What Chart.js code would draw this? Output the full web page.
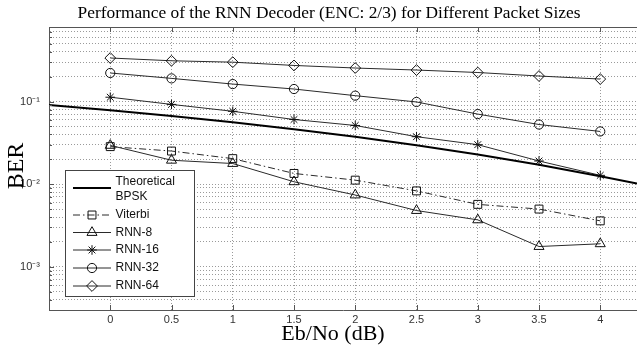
<!DOCTYPE html>
<html>
<head>
<meta charset="utf-8">
<title>RNN Decoder BER</title>
<script src="https://cdn.jsdelivr.net/npm/chart.js@4.4.0/dist/chart.umd.min.js"></script>
<style>
  html, body { margin: 0; padding: 0; background: #fff; }
  #wrap { width: 637px; height: 351px; }
</style>
</head>
<body>
<div id="wrap"><canvas id="berChart" width="637" height="351"></canvas></div>
<script>
/************************************************************
 *                        CHART DATA
 ************************************************************/
const ebNo = [0, 0.5, 1, 1.5, 2, 2.5, 3, 3.5, 4];
const bpskEbNo = [-0.5, 0, 0.5, 1, 1.5, 2, 2.5, 3, 3.5, 4, 4.3];
const bpskBer = [0.0909, 0.0786, 0.0671, 0.0563, 0.0464, 0.0375, 0.0296, 0.0229, 0.0172, 0.0125, 0.0102];
const viterbiBer = [0.0285, 0.0252, 0.0204, 0.0135, 0.0112, 0.0083, 0.0057, 0.0050, 0.0036];
const rnn8Ber = [0.0295, 0.0195, 0.0178, 0.0107, 0.0074, 0.0048, 0.0037, 0.00176, 0.0019];
const rnn16Ber = [0.113, 0.0925, 0.0763, 0.0607, 0.0514, 0.0376, 0.0301, 0.0191, 0.0128];
const rnn32Ber = [0.222, 0.191, 0.163, 0.142, 0.118, 0.099, 0.0706, 0.0528, 0.0435];
const rnn64Ber = [0.337, 0.312, 0.300, 0.274, 0.255, 0.241, 0.225, 0.204, 0.1875];

const xTicks = [0, 0.5, 1, 1.5, 2, 2.5, 3, 3.5, 4];
const xMin = -0.5;
const xMax = 4.3;
const yMin = 3.16e-4;
const yMax = 0.8;

const chartTitle = "Performance of the RNN Decoder (ENC: 2/3) for Different Packet Sizes";
const xAxisTitle = "Eb/No (dB)";
const yAxisTitle = "BER";

/************************************************************
 *                        HELPERS
 ************************************************************/
const supDigits = { "-": "\u207B", "0": "\u2070", "1": "\u00B9", "2": "\u00B2", "3": "\u00B3", "4": "\u2074" };

function decadeLabel(exp) {
  return "10" + String(exp).split("").map((c) => supDigits[c] || c).join("");
}

function toPoints(xs, ys) {
  return xs.map((x, i) => ({ x: x, y: ys[i] }));
}

function lineSeries(label, xs, ys, marker, radius, dash) {
  return {
    label: label,
    data: toPoints(xs, ys),
    borderColor: "#2a2a2a",
    borderWidth: 1,
    borderDash: dash || [],
    pointStyle: marker,
    pointRadius: radius,
    pointBorderColor: "#111",
    pointBorderWidth: 1,
    pointBackgroundColor: "rgba(0,0,0,0)",
    tension: 0,
    fill: false,
  };
}

/************************************************************
 *                        PLUGINS
 ************************************************************/
const frameAndTextPlugin = {
  id: "frameAndText",
  afterDraw(chart) {
    const ctx = chart.ctx;
    const area = chart.chartArea;
    const xs = chart.scales.x;
    const ys = chart.scales.y;
    ctx.save();

    // top border
    ctx.strokeStyle = "#555";
    ctx.lineWidth = 1;
    ctx.beginPath();
    ctx.moveTo(area.left, Math.round(area.top) + 0.5);
    ctx.lineTo(area.right, Math.round(area.top) + 0.5);
    ctx.stroke();

    // inward tick marks
    ctx.beginPath();
    xs.ticks.forEach((t) => {
      const px = Math.round(xs.getPixelForValue(t.value)) + 0.5;
      ctx.moveTo(px, area.bottom);
      ctx.lineTo(px, area.bottom - 5);
      ctx.moveTo(px, area.top);
      ctx.lineTo(px, area.top + 5);
    });
    ys.ticks.forEach((t) => {
      const py = Math.round(ys.getPixelForValue(t.value)) + 0.5;
      const e = Math.log10(t.value);
      const len = Math.abs(e - Math.round(e)) < 1e-9 ? 5 : 3;
      ctx.moveTo(area.left, py);
      ctx.lineTo(area.left + len, py);
    });
    ctx.stroke();

    // legend
    const box = { left: 65.5, top: 170.5, width: 129, height: 126 };
    ctx.fillStyle = "#fff";
    ctx.fillRect(box.left, box.top, box.width, box.height);
    ctx.strokeStyle = "#444";
    ctx.strokeRect(box.left, box.top, box.width, box.height);

    const rowY = [188, 215, 232.5, 250, 268, 286];
    ctx.font = '12px "Liberation Sans", Arial, sans-serif';
    ctx.textBaseline = "middle";
    ctx.textAlign = "left";
    chart.data.datasets.forEach((ds, i) => {
      const y = rowY[i];
      ctx.save();
      ctx.strokeStyle = ds.borderColor;
      ctx.lineWidth = ds.borderWidth;
      ctx.setLineDash(ds.borderDash || []);
      ctx.beginPath();
      ctx.moveTo(73, y);
      ctx.lineTo(111, y);
      ctx.stroke();
      ctx.restore();
      if (ds.pointRadius > 0) {
        ctx.save();
        ctx.strokeStyle = ds.pointBorderColor;
        ctx.fillStyle = "rgba(0,0,0,0)";
        ctx.lineWidth = 1;
        Chart.helpers.drawPoint(ctx, { pointStyle: ds.pointStyle, radius: ds.pointRadius, rotation: 0, borderWidth: 1 }, 92, y);
        ctx.restore();
      }
      const lines = ds.label.split("\n");
      ctx.fillStyle = "#111";
      if (lines.length === 2) {
        ctx.fillText(lines[0], 115.5, 182);
        ctx.fillText(lines[1], 115.5, 196.5);
      } else {
        ctx.fillText(lines[0], 115.5, y);
      }
    });

    // titles
    ctx.fillStyle = "#000";
    ctx.textAlign = "center";
    ctx.textBaseline = "alphabetic";
    ctx.font = '15px "Liberation Serif", serif';
    const w15 = ctx.measureText(chartTitle).width;
    const titleSize = 15 * 503 / w15;
    ctx.font = titleSize.toFixed(2) + 'px "Liberation Serif", serif';
    ctx.fillText(chartTitle, 329, 18);

    ctx.font = '22px "Liberation Serif", serif';
    ctx.fillText(xAxisTitle, 333, 340);

    ctx.save();
    ctx.translate(23, 166);
    ctx.rotate(-Math.PI / 2);
    ctx.font = '24px "Liberation Serif", serif';
    ctx.fillText(yAxisTitle, 0, 0);
    ctx.restore();

    ctx.restore();
  },
};

/************************************************************
 *                        CHART CONFIG
 ************************************************************/
const datasets = [
  {
    label: "Theoretical\nBPSK",
    data: toPoints(bpskEbNo, bpskBer),
    borderColor: "#000",
    borderWidth: 2,
    pointRadius: 0,
    tension: 0,
    fill: false,
  },
  lineSeries("Viterbi", ebNo, viterbiBer, "rect", 5.6, [7, 3, 1.5, 3]),
  lineSeries("RNN-8", ebNo, rnn8Ber, "triangle", 5.8),
  lineSeries("RNN-16", ebNo, rnn16Ber, "star", 4.8),
  lineSeries("RNN-32", ebNo, rnn32Ber, "circle", 4.6),
  lineSeries("RNN-64", ebNo, rnn64Ber, "rectRot", 5.4),
];

const gridStyle = { color: "#9a9a9a", lineWidth: 1, drawTicks: false };
const borderStyle = { display: true, color: "#555", width: 1, dash: [1, 2] };
const tickFont = { family: '"Liberation Sans", Arial, sans-serif', size: 11 };

const config = {
  type: "line",
  data: { datasets: datasets },
  options: {
    responsive: false,
    animation: false,
    layout: { autoPadding: false, padding: { top: 27, right: 0, bottom: 0, left: 0 } },
    plugins: {
      legend: { display: false },
      title: { display: false },
      tooltip: { enabled: false },
    },
    scales: {
      x: {
        type: "linear",
        min: xMin,
        max: xMax,
        grid: gridStyle,
        border: borderStyle,
        afterBuildTicks: (scale) => {
          scale.ticks = xTicks.map((v) => ({ value: v }));
        },
        afterFit: (scale) => {
          scale.height = 41;
        },
        ticks: {
          autoSkip: false,
          maxRotation: 0,
          padding: 3,
          color: "#333",
          font: tickFont,
          callback: (v) => String(v),
        },
      },
      y: {
        type: "logarithmic",
        min: yMin,
        max: yMax,
        grid: gridStyle,
        border: borderStyle,
        afterBuildTicks: (scale) => {
          const t = [];
          for (let e = -4; e <= 0; e++) {
            for (let m = 1; m <= 9; m++) {
              const v = m * Math.pow(10, e);
              if (v >= yMin * 0.999 && v <= yMax * 1.001) t.push({ value: v });
            }
          }
          scale.ticks = t;
        },
        afterFit: (scale) => {
          scale.width = 49;
        },
        ticks: {
          autoSkip: false,
          padding: 9,
          color: "#333",
          font: tickFont,
          callback: (v) => {
            const e = Math.log10(v);
            return Math.abs(e - Math.round(e)) < 1e-9 ? decadeLabel(Math.round(e)) : "";
          },
        },
      },
    },
  },
  plugins: [frameAndTextPlugin],
};

new Chart(document.getElementById("berChart"), config);
</script>
</body>
</html>
